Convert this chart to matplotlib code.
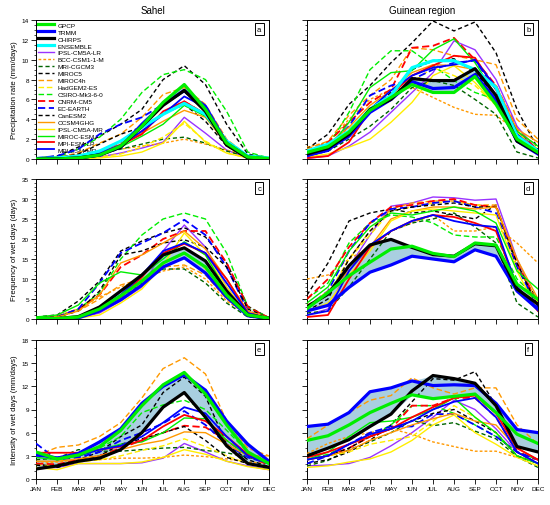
import matplotlib
matplotlib.use("Agg")
import matplotlib.pyplot as plt
from matplotlib.ticker import MultipleLocator
import numpy as np

plt.rcParams['font.family'] = ['Liberation Sans', 'DejaVu Sans']

months = ["JAN", "FEB", "MAR", "APR", "MAY", "JUN", "JUL", "AUG", "SEP", "OCT", "NOV", "DEC"]

series = ["GPCP", "TRMM", "CHIRPS", "ENSEMBLE", "IPSL-CM5A-LR", "BCC-CSM1-1-M", "MRI-CGCM3",
          "MIROC5", "MIROC4h", "HadGEM2-ES", "CSIRO-Mk3-6-0", "CNRM-CM5", "EC-EARTH", "CanESM2",
          "CCSM4GHG", "IPSL-CM5A-MR", "MIROC-ESM", "MPI-ESM-LR", "MPI-ESM-MR"]

colors = ["#00ee00", "#0000ff", "#000000", "#00ffff", "#9933ff", "#ff9900", "#006400",
          "#000000", "#ff9900", "#ffee00", "#00ee00", "#ff0000", "#0000ff", "#000000",
          "#ff9900", "#ffee00", "#00ee00", "#ff0000", "#0000ff"]

styles = ["-", "-", "-", "-", "-", (0, (2, 1.5)), (0, (3, 2)),
          (0, (3, 2)), (0, (4, 2)), (0, (4, 2)), (0, (4, 2)), (0, (4, 2)), (0, (4, 2)), (0, (3, 2)),
          "-", "-", "-", "-", "-"]

widths = [2.3, 2.3, 2.3, 2.3, 1.0, 1.0, 1.0, 1.0, 1.0, 1.0, 1.0, 1.3, 1.3, 1.0,
          1.0, 1.0, 1.0, 1.3, 1.3]

# a: Sahel precipitation rate (mm/days)
precip_sahel = {
    "GPCP":          [0.0, 0.0, 0.1, 0.4, 1.3, 3.3, 5.7, 7.5, 5.0, 1.6, 0.2, 0.05],
    "TRMM":          [0.0, 0.0, 0.1, 0.4, 1.2, 3.5, 5.5, 6.9, 5.3, 1.6, 0.2, 0.0],
    "CHIRPS":        [0.0, 0.0, 0.1, 0.4, 1.2, 3.3, 5.4, 6.9, 4.8, 1.4, 0.1, 0.0],
    "ENSEMBLE":      [0.05, 0.1, 0.3, 0.8, 1.8, 3.2, 4.5, 5.6, 4.5, 1.8, 0.3, 0.1],
    "IPSL-CM5A-LR":  [0.0, 0.0, 0.05, 0.2, 0.6, 1.1, 1.7, 4.2, 2.6, 0.9, 0.1, 0.0],
    "BCC-CSM1-1-M":  [0.1, 0.2, 0.4, 0.7, 1.0, 1.3, 1.6, 2.0, 1.5, 0.9, 0.3, 0.1],
    "MRI-CGCM3":     [0.0, 0.05, 0.2, 0.5, 1.0, 1.5, 2.0, 2.2, 1.6, 0.8, 0.2, 0.05],
    "MIROC5":        [0.1, 0.3, 1.2, 2.3, 3.5, 5.0, 8.0, 9.4, 7.5, 3.5, 0.5, 0.1],
    "MIROC4h":       [0.05, 0.2, 0.6, 1.6, 2.5, 4.2, 6.5, 7.2, 5.5, 2.0, 0.3, 0.05],
    "HadGEM2-ES":    [0.0, 0.0, 0.05, 0.2, 0.5, 1.2, 2.2, 3.6, 1.8, 0.6, 0.1, 0.0],
    "CSIRO-Mk3-6-0": [0.1, 0.2, 1.0, 2.2, 4.0, 6.7, 8.5, 9.0, 8.0, 4.8, 0.7, 0.1],
    "CNRM-CM5":      [0.0, 0.05, 0.3, 0.8, 1.6, 2.8, 4.5, 5.8, 4.5, 1.5, 0.2, 0.05],
    "EC-EARTH":      [0.1, 0.3, 1.0, 2.5, 3.5, 4.2, 5.5, 6.8, 5.0, 1.8, 0.3, 0.1],
    "CanESM2":       [0.0, 0.1, 0.5, 1.5, 2.5, 3.2, 4.5, 5.5, 3.8, 1.3, 0.2, 0.0],
    "CCSM4GHG":      [0.0, 0.05, 0.2, 0.6, 1.5, 2.6, 3.8, 4.9, 4.2, 1.5, 0.2, 0.05],
    "IPSL-CM5A-MR":  [0.0, 0.0, 0.02, 0.1, 0.3, 0.7, 1.6, 3.8, 1.7, 0.6, 0.1, 0.0],
    "MIROC-ESM":     [0.0, 0.05, 0.2, 0.5, 1.2, 2.3, 3.5, 5.4, 4.3, 1.6, 0.2, 0.0],
    "MPI-ESM-LR":    [0.0, 0.05, 0.3, 0.7, 1.4, 2.5, 4.8, 5.8, 4.5, 1.5, 0.2, 0.0],
    "MPI-ESM-MR":    [0.0, 0.05, 0.2, 0.6, 1.4, 2.8, 4.5, 6.3, 5.2, 1.6, 0.2, 0.0],
}

# b: Guinean region precipitation rate (mm/days)
precip_guinea = {
    "GPCP":          [0.67, 1.24, 2.7, 4.9, 6.2, 7.5, 6.7, 6.7, 8.3, 5.5, 2.0, 0.67],
    "TRMM":          [0.33, 1.0, 2.3, 4.7, 6.0, 7.8, 7.1, 7.2, 8.5, 5.9, 1.8, 0.5],
    "CHIRPS":        [0.5, 1.1, 2.5, 5.0, 6.0, 8.1, 7.9, 7.9, 9.1, 6.4, 1.8, 0.6],
    "ENSEMBLE":      [0.8, 1.5, 2.8, 5.0, 6.4, 9.2, 9.9, 9.9, 9.0, 7.2, 2.3, 0.8],
    "IPSL-CM5A-LR":  [0.05, 0.3, 1.3, 2.7, 4.7, 6.7, 8.7, 11.9, 11.0, 8.0, 3.3, 0.8],
    "BCC-CSM1-1-M":  [1.2, 1.7, 4.0, 6.0, 7.0, 7.2, 6.2, 5.2, 4.5, 4.4, 2.8, 1.3],
    "MRI-CGCM3":     [0.5, 0.8, 2.0, 3.3, 5.0, 7.2, 7.9, 7.4, 6.0, 4.5, 0.7, 0.1],
    "MIROC5":        [1.0, 2.5, 5.5, 7.4, 9.7, 11.7, 13.9, 12.9, 13.8, 10.7, 5.0, 1.0],
    "MIROC4h":       [1.0, 1.8, 4.4, 6.4, 8.0, 11.2, 11.0, 10.4, 10.0, 9.5, 4.0, 2.0],
    "HadGEM2-ES":    [0.3, 1.3, 3.0, 5.0, 6.4, 7.7, 9.2, 8.4, 7.4, 5.4, 2.7, 1.0],
    "CSIRO-Mk3-6-0": [0.5, 1.3, 4.7, 9.0, 10.9, 10.9, 9.4, 7.9, 6.7, 6.0, 2.3, 0.7],
    "CNRM-CM5":      [0.7, 1.7, 3.7, 5.7, 7.0, 11.2, 11.4, 12.2, 10.0, 7.4, 3.0, 0.8],
    "EC-EARTH":      [0.7, 1.3, 3.3, 6.4, 7.4, 8.0, 9.0, 9.7, 9.9, 7.0, 2.7, 0.8],
    "CanESM2":       [0.3, 0.8, 2.3, 4.7, 6.7, 9.0, 9.9, 10.1, 8.7, 6.4, 2.0, 0.5],
    "CCSM4GHG":      [0.8, 1.5, 3.2, 5.4, 6.9, 8.7, 9.5, 9.4, 9.0, 7.4, 3.0, 1.7],
    "IPSL-CM5A-MR":  [0.2, 0.5, 1.2, 2.0, 3.7, 5.7, 8.4, 9.4, 7.7, 5.4, 2.7, 0.7],
    "MIROC-ESM":     [0.5, 1.0, 3.7, 7.2, 8.7, 8.9, 11.0, 12.1, 9.7, 6.4, 2.8, 1.3],
    "MPI-ESM-LR":    [0.1, 0.3, 1.7, 4.9, 6.5, 8.4, 9.4, 10.4, 10.2, 7.0, 2.3, 0.5],
    "MPI-ESM-MR":    [0.3, 0.8, 2.5, 5.0, 6.9, 8.4, 9.2, 9.5, 10.0, 7.2, 2.5, 0.7],
}

# c: Sahel frequency of wet days (days)
freq_sahel = {
    "GPCP":          [0.1, 0.1, 0.5, 2.5, 5.8, 9.5, 14.0, 16.5, 13.0, 6.0, 1.0, 0.2],
    "TRMM":          [0.0, 0.0, 0.3, 2.0, 4.8, 8.5, 13.0, 15.3, 11.5, 5.5, 0.8, 0.1],
    "CHIRPS":        [0.1, 0.1, 0.6, 3.0, 7.0, 11.0, 16.0, 17.8, 14.5, 7.0, 1.0, 0.2],
    "IPSL-CM5A-LR":  [0.0, 0.0, 0.2, 1.5, 4.5, 8.0, 17.0, 23.5, 18.0, 8.0, 1.0, 0.1],
    "BCC-CSM1-1-M":  [0.3, 0.8, 2.5, 5.5, 8.0, 10.0, 12.0, 13.0, 10.0, 4.5, 1.0, 0.3],
    "MRI-CGCM3":     [0.0, 0.1, 0.5, 2.5, 5.5, 9.0, 12.5, 12.5, 9.0, 4.0, 0.5, 0.1],
    "MIROC5":        [0.5, 1.0, 4.5, 9.5, 17.0, 19.5, 21.5, 22.8, 20.5, 14.0, 3.2, 0.3],
    "MIROC4h":       [0.2, 0.5, 2.0, 5.0, 8.5, 10.0, 13.0, 13.5, 11.0, 5.0, 1.0, 0.2],
    "HadGEM2-ES":    [0.0, 0.1, 0.5, 2.0, 5.5, 9.0, 14.0, 16.5, 12.5, 6.0, 1.0, 0.1],
    "CSIRO-Mk3-6-0": [0.3, 0.5, 2.5, 6.5, 15.0, 21.0, 25.0, 26.5, 25.0, 16.5, 3.0, 0.3],
    "CNRM-CM5":      [0.2, 0.5, 2.5, 6.0, 13.0, 16.0, 20.0, 22.0, 22.0, 14.0, 3.0, 0.3],
    "EC-EARTH":      [0.2, 0.5, 2.5, 9.0, 16.5, 19.0, 21.5, 24.8, 21.0, 13.0, 2.0, 0.2],
    "CanESM2":       [0.3, 0.5, 2.0, 7.0, 16.0, 17.0, 19.0, 19.8, 18.0, 13.0, 2.5, 0.2],
    "CCSM4GHG":      [0.2, 0.5, 2.0, 6.0, 14.0, 16.0, 19.0, 22.0, 17.5, 10.0, 2.0, 0.3],
    "IPSL-CM5A-MR":  [0.0, 0.0, 0.2, 1.0, 4.0, 7.5, 13.5, 21.5, 16.0, 8.0, 1.0, 0.1],
    "MIROC-ESM":     [0.5, 1.0, 3.5, 9.0, 11.8, 11.0, 15.0, 19.3, 16.0, 7.0, 1.0, 0.2],
    "MPI-ESM-LR":    [0.0, 0.1, 0.5, 2.5, 5.5, 10.5, 16.5, 18.8, 16.5, 10.0, 1.5, 0.1],
    "MPI-ESM-MR":    [0.0, 0.1, 0.5, 2.5, 6.0, 11.0, 17.0, 19.0, 16.5, 9.0, 1.5, 0.1],
}

# d: Guinean region frequency of wet days (days)
freq_guinea = {
    "GPCP":          [2.6, 6.6, 10.8, 14.2, 17.5, 18.2, 16.4, 15.6, 19.0, 18.5, 8.7, 4.9],
    "TRMM":          [2.0, 3.4, 7.9, 11.7, 13.5, 15.7, 15.0, 14.3, 17.3, 15.7, 7.0, 2.4],
    "CHIRPS":        [3.1, 6.2, 13.3, 18.5, 19.9, 17.9, 16.1, 15.7, 18.8, 18.3, 7.5, 3.7],
    "IPSL-CM5A-LR":  [1.0, 2.5, 13.0, 21.0, 28.2, 29.0, 30.5, 30.3, 29.7, 30.0, 15.0, 3.5],
    "BCC-CSM1-1-M":  [10.0, 11.0, 15.0, 18.0, 22.0, 24.0, 26.0, 22.0, 22.0, 23.0, 19.0, 14.0],
    "MRI-CGCM3":     [1.5, 2.0, 8.0, 15.0, 22.0, 24.0, 25.0, 26.5, 23.0, 19.0, 4.0, 0.5],
    "MIROC5":        [6.0, 14.0, 24.5, 26.5, 27.5, 26.5, 27.0, 26.0, 25.0, 28.5, 13.0, 4.5],
    "MIROC4h":       [3.0, 6.0, 15.0, 22.0, 27.5, 29.0, 29.5, 29.5, 28.5, 28.5, 14.0, 4.0],
    "HadGEM2-ES":    [3.5, 6.0, 15.0, 21.0, 27.0, 28.0, 29.0, 29.5, 28.5, 28.0, 13.0, 4.0],
    "CSIRO-Mk3-6-0": [5.0, 9.0, 19.0, 24.0, 26.0, 25.5, 24.0, 21.0, 20.5, 20.5, 10.0, 5.0],
    "CNRM-CM5":      [5.0, 10.0, 18.0, 24.0, 28.0, 28.5, 29.5, 30.0, 28.5, 28.0, 14.0, 3.5],
    "EC-EARTH":      [3.0, 7.0, 17.0, 24.0, 27.5, 28.0, 29.0, 29.5, 28.0, 26.5, 13.0, 3.0],
    "CanESM2":       [2.0, 5.0, 15.0, 22.0, 27.0, 28.0, 28.5, 29.0, 28.0, 28.0, 14.0, 3.0],
    "CCSM4GHG":      [3.0, 7.0, 12.0, 18.0, 25.0, 27.0, 28.0, 28.0, 27.5, 28.0, 15.0, 5.0],
    "IPSL-CM5A-MR":  [2.0, 4.0, 11.0, 17.0, 24.5, 27.0, 27.5, 27.0, 26.5, 26.0, 12.0, 2.0],
    "MIROC-ESM":     [4.0, 8.0, 17.0, 23.0, 26.5, 26.0, 27.0, 28.0, 27.0, 24.0, 12.0, 7.5],
    "MPI-ESM-LR":    [0.5, 1.0, 10.0, 18.0, 22.0, 24.5, 26.0, 25.5, 24.0, 22.0, 8.0, 2.0],
    "MPI-ESM-MR":    [1.0, 2.0, 12.0, 18.5, 22.0, 24.5, 26.0, 24.5, 23.5, 23.0, 8.0, 2.5],
}

# e: Sahel intensity of wet days (mm/days)
inten_sahel = {
    "GPCP":          [3.5, 2.6, 3.1, 4.2, 6.3, 9.5, 12.2, 13.8, 11.0, 7.0, 3.5, 2.0],
    "TRMM":          [3.3, 2.7, 3.3, 4.8, 6.5, 9.8, 12.0, 13.5, 11.5, 7.5, 4.5, 2.3],
    "CHIRPS":        [1.3, 1.7, 2.3, 2.7, 3.8, 6.0, 9.3, 11.2, 8.0, 4.3, 2.0, 1.5],
    "IPSL-CM5A-LR":  [1.3, 1.5, 2.0, 2.0, 2.0, 2.1, 2.7, 4.6, 3.5, 2.3, 1.7, 1.2],
    "BCC-CSM1-1-M":  [2.0, 2.2, 2.5, 2.5, 2.7, 2.7, 2.8, 3.1, 2.9, 2.6, 2.2, 2.0],
    "MRI-CGCM3":     [2.5, 2.7, 3.8, 3.6, 3.6, 3.8, 4.0, 4.1, 3.7, 3.4, 2.8, 2.2],
    "MIROC5":        [2.0, 1.5, 2.5, 3.5, 5.5, 7.0, 11.2, 13.2, 10.7, 4.5, 2.5, 1.6],
    "MIROC4h":       [3.0, 4.1, 4.4, 5.5, 7.3, 10.5, 14.3, 15.7, 13.6, 7.5, 4.0, 3.0],
    "HadGEM2-ES":    [1.8, 1.7, 2.2, 2.5, 3.0, 3.7, 4.3, 5.2, 4.2, 3.0, 2.0, 1.5],
    "CSIRO-Mk3-6-0": [3.3, 2.5, 3.0, 4.0, 5.5, 8.6, 9.6, 10.2, 9.0, 6.3, 3.5, 2.2],
    "CNRM-CM5":      [2.0, 1.9, 2.5, 3.0, 4.0, 5.0, 6.0, 6.9, 6.7, 5.0, 3.0, 1.8],
    "EC-EARTH":      [4.6, 2.5, 2.8, 3.5, 5.0, 6.0, 7.2, 8.8, 7.0, 4.5, 2.8, 2.0],
    "CanESM2":       [1.8, 1.5, 2.3, 3.0, 4.5, 5.2, 6.0, 6.8, 5.0, 2.8, 2.0, 1.5],
    "CCSM4GHG":      [2.3, 2.3, 2.6, 3.0, 3.8, 4.5, 5.0, 6.1, 6.0, 4.5, 3.0, 3.0],
    "IPSL-CM5A-MR":  [1.5, 1.2, 2.0, 2.0, 2.0, 2.2, 2.8, 3.8, 3.2, 2.3, 1.6, 1.2],
    "MIROC-ESM":     [2.8, 2.5, 3.0, 3.8, 4.5, 4.8, 6.0, 7.9, 7.8, 5.0, 3.0, 2.0],
    "MPI-ESM-LR":    [3.4, 3.4, 3.4, 3.8, 4.2, 5.0, 6.8, 8.3, 7.5, 5.5, 3.2, 2.0],
    "MPI-ESM-MR":    [3.0, 2.8, 3.0, 3.8, 4.3, 5.5, 7.3, 9.3, 8.5, 5.5, 3.0, 2.0],
}

# f: Guinean region intensity of wet days (mm/days)
inten_guinea = {
    "GPCP":          [5.0, 5.6, 7.0, 8.6, 9.8, 10.9, 10.4, 10.7, 11.0, 8.6, 5.8, 4.6],
    "TRMM":          [6.8, 7.1, 8.6, 11.3, 11.8, 12.7, 12.1, 12.2, 12.1, 9.8, 6.4, 6.0],
    "CHIRPS":        [3.0, 4.0, 5.1, 6.8, 8.4, 11.4, 13.4, 13.0, 12.4, 9.5, 4.2, 3.5],
    "IPSL-CM5A-LR":  [1.7, 1.8, 2.0, 2.8, 4.3, 6.0, 8.0, 10.2, 9.0, 6.5, 3.5, 2.0],
    "BCC-CSM1-1-M":  [3.3, 4.6, 5.5, 6.0, 6.5, 5.8, 4.8, 4.2, 3.6, 3.6, 2.8, 2.5],
    "MRI-CGCM3":     [1.7, 2.4, 3.8, 4.8, 6.0, 7.6, 6.9, 7.3, 6.2, 5.2, 2.9, 1.5],
    "MIROC5":        [2.0, 2.5, 3.5, 5.0, 7.0, 10.0, 13.0, 12.8, 13.9, 9.5, 3.5, 2.0],
    "MIROC4h":       [5.2, 7.0, 8.6, 10.2, 10.8, 13.1, 11.8, 11.0, 11.8, 11.8, 7.0, 4.5],
    "HadGEM2-ES":    [2.5, 3.0, 3.5, 4.5, 5.0, 5.5, 7.5, 9.5, 8.0, 6.0, 3.0, 2.0],
    "CSIRO-Mk3-6-0": [2.5, 3.2, 4.5, 5.5, 7.0, 9.5, 9.5, 8.5, 7.0, 5.5, 3.5, 2.5],
    "CNRM-CM5":      [2.5, 3.0, 4.0, 5.5, 6.5, 9.5, 9.5, 10.5, 10.5, 8.0, 3.5, 2.5],
    "EC-EARTH":      [2.0, 3.0, 4.5, 6.0, 6.8, 6.8, 8.4, 8.4, 7.0, 5.5, 3.5, 2.5],
    "CanESM2":       [2.5, 3.0, 4.0, 5.5, 6.5, 7.5, 8.5, 9.0, 7.5, 6.0, 3.0, 2.0],
    "CCSM4GHG":      [2.5, 3.0, 3.7, 5.0, 6.0, 7.0, 7.8, 8.5, 7.5, 7.0, 4.0, 2.5],
    "IPSL-CM5A-MR":  [1.5, 1.7, 2.2, 2.6, 3.5, 5.0, 7.0, 8.3, 6.0, 4.5, 2.8, 1.7],
    "MIROC-ESM":     [2.5, 3.5, 5.5, 7.3, 7.5, 8.0, 9.0, 10.5, 8.0, 6.0, 3.0, 2.0],
    "MPI-ESM-LR":    [2.8, 3.5, 4.5, 5.5, 6.5, 8.0, 9.3, 10.5, 10.8, 8.5, 4.0, 2.5],
    "MPI-ESM-MR":    [2.5, 3.0, 4.5, 5.8, 6.5, 7.5, 9.0, 10.0, 10.5, 8.0, 3.5, 2.0],
}

panels = [
    (precip_sahel, "a", 14, 2, 0.5, "Precipitation rate (mm/days)"),
    (precip_guinea, "b", 14, 2, 0.5, None),
    (freq_sahel, "c", 35, 5, 1, "Frequency of wet days (days)"),
    (freq_guinea, "d", 35, 5, 1, None),
    (inten_sahel, "e", 18, 3, 1, "Intensity of wet days (mm/days)"),
    (inten_guinea, "f", 18, 3, 1, None),
]

W, H = 550, 506
fig = plt.figure(figsize=(W / 100, H / 100), dpi=100)
cols = [(36, 269), (307, 538)]
rows = [(21, 160), (180, 320), (341, 480)]

x = np.arange(len(months))
draw_order = list(range(4, len(series))) + [3, 1, 2, 0]

for i, (data, lab, ymax, ymaj, ymin, ylab) in enumerate(panels):
    r, c = divmod(i, 2)
    x0, x1 = cols[c]
    yt, yb = rows[r]
    ax = fig.add_axes([x0 / W, 1 - yb / H, (x1 - x0) / W, (yb - yt) / H])
    obs = np.array([data["GPCP"], data["TRMM"], data["CHIRPS"]])
    ax.fill_between(x, obs.min(axis=0), obs.max(axis=0), color="#a9cfe0", lw=0, zorder=1)
    handles = {}
    for k in draw_order:
        name = series[k]
        if name not in data:
            continue
        ln, = ax.plot(x, data[name], color=colors[k], ls=styles[k], lw=widths[k],
                      zorder=5 if k < 4 else 3, label=name)
        handles[name] = ln
    ax.set_xlim(0, 11)
    ax.set_ylim(0, ymax)
    ax.set_xticks(x)
    ax.yaxis.set_major_locator(MultipleLocator(ymaj))
    ax.yaxis.set_minor_locator(MultipleLocator(ymin))
    ax.tick_params(axis="both", which="major", direction="out", length=3.5, width=0.6,
                   labelsize=4.6, pad=1.5, top=False, right=False)
    ax.tick_params(axis="y", which="minor", direction="out", length=1.8, width=0.5)
    if r == 2:
        ax.set_xticklabels(months)
    else:
        ax.set_xticklabels([])
    if c == 1:
        ax.set_yticklabels([])
    if ylab:
        ax.set_ylabel(ylab, fontsize=5.6, labelpad=3)
    for s in ax.spines.values():
        s.set_linewidth(0.7)
    ax.text(0.958, 0.935, lab, transform=ax.transAxes, ha="center", va="center", fontsize=5.5,
            zorder=10, bbox=dict(boxstyle="square,pad=0.3", fc="white", ec="black", lw=0.7))
    if r == 0:
        ax.set_title("Sahel" if c == 0 else "Guinean region", fontsize=7, pad=5)
    if i == 0:
        leg = ax.legend([handles[n] for n in series], series, loc="upper left",
                        bbox_to_anchor=(0.0, 1.0), frameon=False, fontsize=4.6,
                        labelspacing=0.23, handlelength=2.5, handletextpad=0.5,
                        borderaxespad=0.15, borderpad=0.2)
        leg.set_zorder(2)

fig.savefig("out.png", dpi=100)
